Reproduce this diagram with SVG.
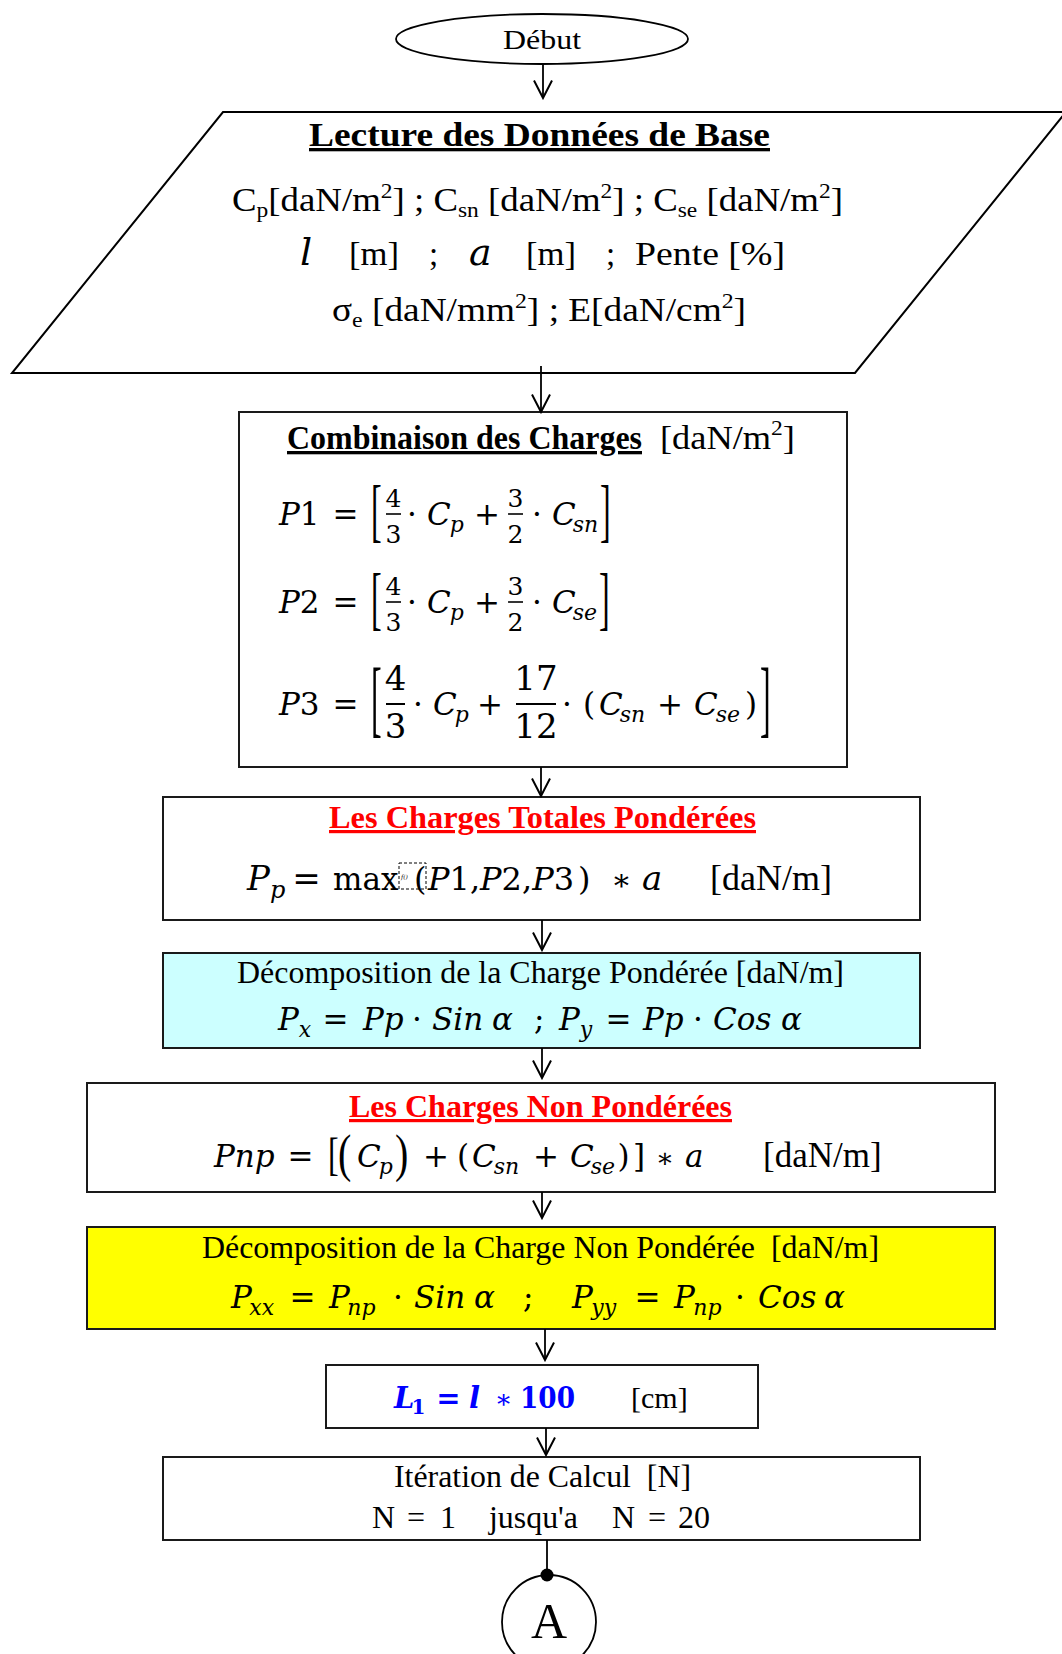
<svg xmlns="http://www.w3.org/2000/svg" width="1062" height="1654" viewBox="0 0 1062 1654">
<defs>
<style>
.s{font-family:"Liberation Serif","Times New Roman",serif;fill:#000}
.m{font-family:"DejaVu Serif",serif;fill:#000}
.i{font-style:italic}
.b{font-weight:bold}
.u{text-decoration:underline}
.red{fill:#ff0000}
.blue{fill:#0000ff}
.c{text-anchor:middle}
.box{stroke:#1a1a1a;stroke-width:2}
.bar{stroke:#000;stroke-width:1.6}
.bar2{stroke:#000;stroke-width:2}
</style>
<marker id="ah" viewBox="0 0 20 20" refX="18.5" refY="10" markerWidth="20" markerHeight="20" markerUnits="userSpaceOnUse" orient="auto">
<path d="M1,1 L18.5,10 L1,19" fill="none" stroke="#000" stroke-width="2"/>
</marker>
</defs>
<rect width="1062" height="1654" fill="#fff"/>

<g id="start">
<ellipse cx="542" cy="39" rx="146" ry="25" fill="#fff" stroke="#000" stroke-width="1.8"/>
<text class="s" x="503" y="49" font-size="27" textLength="78" lengthAdjust="spacingAndGlyphs">Début</text>
</g>

<g id="input">
<polygon points="223,112 1066,112 855,373 12,373" fill="#fff" stroke="#000" stroke-width="2"/>
<text class="s b u" x="309" y="146" font-size="33" textLength="461" lengthAdjust="spacingAndGlyphs">Lecture des Données de Base</text>
<text class="s" x="232" y="211" font-size="33" textLength="611" lengthAdjust="spacingAndGlyphs">C<tspan font-size="21" dy="6">p</tspan><tspan dy="-6">[daN/m</tspan><tspan font-size="21" dy="-13">2</tspan><tspan dy="13">] ; C</tspan><tspan font-size="21" dy="6">sn</tspan><tspan dy="-6"> [daN/m</tspan><tspan font-size="21" dy="-13">2</tspan><tspan dy="13">] ; C</tspan><tspan font-size="21" dy="6">se</tspan><tspan dy="-6"> [daN/m</tspan><tspan font-size="21" dy="-13">2</tspan><tspan dy="13">]</tspan></text>
<text class="m i" x="300" y="265" font-size="38">l</text>
<text class="s" x="349" y="265" font-size="33" textLength="50" lengthAdjust="spacingAndGlyphs">[m]</text>
<text class="s" x="429" y="265" font-size="33">;</text>
<text class="m i" x="469" y="265" font-size="38">a</text>
<text class="s" x="526" y="265" font-size="33" textLength="50" lengthAdjust="spacingAndGlyphs">[m]</text>
<text class="s" x="606" y="265" font-size="33">;</text>
<text class="s" x="635" y="265" font-size="33" textLength="150" lengthAdjust="spacingAndGlyphs">Pente [%]</text>
<text class="s" x="332" y="321" font-size="33" textLength="414" lengthAdjust="spacingAndGlyphs">σ<tspan font-size="21" dy="6">e</tspan><tspan dy="-6"> [daN/mm</tspan><tspan font-size="21" dy="-13">2</tspan><tspan dy="13">] ; E[daN/cm</tspan><tspan font-size="21" dy="-13">2</tspan><tspan dy="13">]</tspan></text>
</g>

<g id="combinaison">
<rect class="box" x="239" y="412" width="608" height="355" fill="#fff"/>
<text class="s b u" x="287" y="449" font-size="33" textLength="355" lengthAdjust="spacingAndGlyphs">Combinaison des Charges</text>
<text class="s" x="660" y="449" font-size="34" textLength="135" lengthAdjust="spacingAndGlyphs">[daN/m<tspan font-size="22" dy="-14">2</tspan><tspan dy="14">]</tspan></text>
<!-- P1 -->
<text class="m" x="279" y="525" font-size="31"><tspan class="i">P</tspan>1</text>
<text class="m c" x="345.5" y="525" font-size="31">=</text>
<text class="s" transform="translate(371,533.7) scale(1,2.206)" font-size="32">[</text>
<text class="m c" x="393.5" y="507" font-size="25">4</text>
<line class="bar" x1="386" y1="514" x2="401" y2="514"/>
<text class="m c" x="393.5" y="543" font-size="25">3</text>
<text class="m c" x="412" y="525" font-size="31">·</text>
<text class="m i" x="427" y="525" font-size="31">C<tspan font-size="22" dx="-1" dy="7">p</tspan></text>
<text class="m c" x="487" y="525" font-size="31">+</text>
<text class="m c" x="515.5" y="507" font-size="25">3</text>
<line class="bar" x1="508" y1="514" x2="523" y2="514"/>
<text class="m c" x="515.5" y="543" font-size="25">2</text>
<text class="m c" x="537" y="525" font-size="31">·</text>
<text class="m i" x="552" y="525" font-size="31">C<tspan font-size="22" dx="-3" dy="7">sn</tspan></text>
<text class="s" transform="translate(600,533.7) scale(1,2.206)" font-size="32">]</text>
<!-- P2 -->
<text class="m" x="279" y="613" font-size="31"><tspan class="i">P</tspan>2</text>
<text class="m c" x="345.5" y="613" font-size="31">=</text>
<text class="s" transform="translate(371,621.7) scale(1,2.206)" font-size="32">[</text>
<text class="m c" x="393.5" y="595" font-size="25">4</text>
<line class="bar" x1="386" y1="602" x2="401" y2="602"/>
<text class="m c" x="393.5" y="631" font-size="25">3</text>
<text class="m c" x="412" y="613" font-size="31">·</text>
<text class="m i" x="427" y="613" font-size="31">C<tspan font-size="22" dx="-1" dy="7">p</tspan></text>
<text class="m c" x="487" y="613" font-size="31">+</text>
<text class="m c" x="515.5" y="595" font-size="25">3</text>
<line class="bar" x1="508" y1="602" x2="523" y2="602"/>
<text class="m c" x="515.5" y="631" font-size="25">2</text>
<text class="m c" x="537" y="613" font-size="31">·</text>
<text class="m i" x="552" y="613" font-size="31">C<tspan font-size="22" dx="-3" dy="7">se</tspan></text>
<text class="s" transform="translate(599,621.7) scale(1,2.206)" font-size="32">]</text>
<!-- P3 -->
<text class="m" x="279" y="715" font-size="31"><tspan class="i">P</tspan>3</text>
<text class="m c" x="345.5" y="715" font-size="31">=</text>
<text class="s" transform="translate(371,726.5) scale(1,2.647)" font-size="32">[</text>
<text class="m c" x="395.5" y="690" font-size="34">4</text>
<line class="bar2" x1="386" y1="704" x2="405" y2="704"/>
<text class="m c" x="395.5" y="738" font-size="34">3</text>
<text class="m c" x="418" y="715" font-size="31">·</text>
<text class="m i" x="433" y="715" font-size="31">C<tspan font-size="22" dx="-2" dy="7">p</tspan></text>
<text class="m c" x="490" y="715" font-size="31">+</text>
<text class="m c" x="536" y="690" font-size="34">17</text>
<line class="bar2" x1="516" y1="704" x2="556" y2="704"/>
<text class="m c" x="536" y="738" font-size="34">12</text>
<text class="m c" x="567" y="715" font-size="31">·</text>
<text class="m" x="583" y="715" font-size="31">(</text>
<text class="m i" x="599" y="715" font-size="31">C<tspan font-size="22" dx="-3" dy="7">sn</tspan></text>
<text class="m c" x="670" y="715" font-size="31">+</text>
<text class="m i" x="694" y="715" font-size="31">C<tspan font-size="22" dx="-2" dy="7">se</tspan></text>
<text class="m" x="745" y="715" font-size="31">)</text>
<text class="s" transform="translate(760,726.5) scale(1,2.647)" font-size="32">]</text>
</g>

<g id="charges-totales">
<rect class="box" x="163" y="797" width="757" height="123" fill="#fff"/>
<text class="s b u red" x="329" y="828" font-size="32" textLength="427" lengthAdjust="spacingAndGlyphs">Les Charges Totales Pondérées</text>
<text class="m i" x="247" y="890" font-size="34">P<tspan font-size="24" dy="8">p</tspan></text>
<text class="m c" x="306.5" y="890" font-size="34">=</text>
<text class="m" x="333" y="890" font-size="31">max</text>
<rect x="399" y="863" width="27" height="26" fill="none" stroke="#000" stroke-width="1" stroke-dasharray="3,2"/>
<text class="m i" x="401" y="879" font-size="6">f()</text>
<text class="m" x="414" y="890" font-size="32">(</text>
<text class="m" x="428" y="890" font-size="32"><tspan class="i">P</tspan>1,<tspan class="i">P</tspan>2,<tspan class="i">P</tspan>3</text>
<text class="m" x="578" y="890" font-size="32">)</text>
<text class="m c" x="621.5" y="890" font-size="30">∗</text>
<text class="m i" x="642" y="890" font-size="34">a</text>
<text class="s" x="710" y="890" font-size="36">[daN/m]</text>
</g>

<g id="decomposition-ponderee">
<rect class="box" x="163" y="953" width="757" height="95" fill="#ccffff"/>
<text class="s" x="237" y="983" font-size="32" textLength="607" lengthAdjust="spacingAndGlyphs">Décomposition de la Charge Pondérée [daN/m]</text>
<text class="m i" x="278" y="1030" font-size="31">P<tspan font-size="22" dy="7">x</tspan></text>
<text class="m c" x="335.5" y="1030" font-size="31">=</text>
<text class="m i" x="363" y="1030" font-size="31">Pp</text>
<text class="m c" x="417" y="1030" font-size="31">·</text>
<text class="m i" x="432" y="1030" font-size="31">Sin</text>
<text class="m i" x="492" y="1030" font-size="31">α</text>
<text class="m" x="534" y="1030" font-size="31">;</text>
<text class="m i" x="559" y="1030" font-size="31">P<tspan font-size="22" dy="7">y</tspan></text>
<text class="m c" x="618.5" y="1030" font-size="31">=</text>
<text class="m i" x="643" y="1030" font-size="31">Pp</text>
<text class="m c" x="698" y="1030" font-size="31">·</text>
<text class="m i" x="713" y="1030" font-size="31">Cos</text>
<text class="m i" x="781" y="1030" font-size="31">α</text>
</g>

<g id="charges-non-ponderees">
<rect class="box" x="87" y="1083" width="908" height="109" fill="#fff"/>
<text class="s b u red" x="349" y="1117" font-size="32" textLength="383" lengthAdjust="spacingAndGlyphs">Les Charges Non Pondérées</text>
<text class="m i" x="214" y="1167" font-size="31">Pnp</text>
<text class="m c" x="300.5" y="1167" font-size="31">=</text>
<text class="s" transform="translate(328,1169.7) scale(1,1.434)" font-size="32">[</text>
<text class="s" transform="translate(338,1170.7) scale(1,1.32)" font-size="40">(</text>
<text class="m i" x="357" y="1167" font-size="31">C<tspan font-size="22" dx="-2" dy="7">p</tspan></text>
<text class="s" transform="translate(395,1170.7) scale(1,1.32)" font-size="40">)</text>
<text class="m c" x="436" y="1167" font-size="31">+</text>
<text class="m" x="457" y="1167" font-size="31">(</text>
<text class="m i" x="472" y="1167" font-size="31">C<tspan font-size="22" dx="-2" dy="7">sn</tspan></text>
<text class="m c" x="546" y="1167" font-size="31">+</text>
<text class="m i" x="570" y="1167" font-size="31">C<tspan font-size="22" dx="-3" dy="7">se</tspan></text>
<text class="m" x="617.5" y="1167" font-size="31">)</text>
<text class="m" x="633" y="1167" font-size="31">]</text>
<text class="m c" x="665" y="1167" font-size="27">∗</text>
<text class="m i" x="685" y="1167" font-size="31">a</text>
<text class="s" x="763" y="1167" font-size="35">[daN/m]</text>
</g>

<g id="decomposition-non-ponderee">
<rect class="box" x="87" y="1227" width="908" height="102" fill="#ffff00"/>
<text class="s" x="202" y="1258" font-size="32" textLength="677" lengthAdjust="spacingAndGlyphs">Décomposition de la Charge Non Pondérée&#160; [daN/m]</text>
<text class="m i" x="231" y="1308" font-size="31">P<tspan font-size="22" dx="-2.6" dy="7">xx</tspan></text>
<text class="m c" x="302.5" y="1308" font-size="31">=</text>
<text class="m i" x="329" y="1308" font-size="31">P<tspan font-size="22" dx="-2.6" dy="7">np</tspan></text>
<text class="m c" x="398" y="1308" font-size="31">·</text>
<text class="m i" x="414" y="1308" font-size="31">Sin</text>
<text class="m i" x="474" y="1308" font-size="31">α</text>
<text class="m" x="523" y="1308" font-size="31">;</text>
<text class="m i" x="572" y="1308" font-size="31">P<tspan font-size="22" dx="-1.6" dy="7">yy</tspan></text>
<text class="m c" x="647.5" y="1308" font-size="31">=</text>
<text class="m i" x="674" y="1308" font-size="31">P<tspan font-size="22" dx="-1.6" dy="7">np</tspan></text>
<text class="m c" x="740" y="1308" font-size="31">·</text>
<text class="m i" x="758" y="1308" font-size="31">Cos</text>
<text class="m i" x="824" y="1308" font-size="31">α</text>
</g>

<g id="longueur">
<rect class="box" x="326" y="1365" width="432" height="63" fill="#fff"/>
<text class="m b i blue" x="394" y="1408" font-size="29">L<tspan font-size="20" font-style="normal" dx="-3" dy="6">1</tspan></text>
<text class="m b c blue" x="448.5" y="1408" font-size="29">=</text>
<text class="m b i blue" x="469" y="1408" font-size="29">l</text>
<text class="m c blue" x="503.5" y="1408" font-size="26">∗</text>
<text class="m b blue" x="520" y="1408" font-size="29" textLength="55" lengthAdjust="spacingAndGlyphs">100</text>
<text class="s" x="631" y="1408" font-size="30">[cm]</text>
</g>

<g id="iteration">
<rect class="box" x="163" y="1457" width="757" height="83" fill="#fff"/>
<text class="s" x="394" y="1487" font-size="31" textLength="297" lengthAdjust="spacingAndGlyphs">Itération de Calcul&#160; [N]</text>
<text class="s" x="372" y="1528" font-size="32">N</text>
<text class="s" x="407" y="1528" font-size="32">=</text>
<text class="s" x="440" y="1528" font-size="32">1</text>
<text class="s" x="489" y="1528" font-size="32" textLength="89" lengthAdjust="spacingAndGlyphs">jusqu'a</text>
<text class="s" x="612" y="1528" font-size="32">N</text>
<text class="s" x="648" y="1528" font-size="32">=</text>
<text class="s" x="678" y="1528" font-size="32">20</text>
</g>

<g id="connecteur-A">
<ellipse cx="549" cy="1622" rx="47" ry="47" fill="#fff" stroke="#000" stroke-width="1.8"/>
<text class="s c" x="549" y="1638" font-size="50">A</text>
</g>

<g id="connectors" fill="none" stroke="#000" stroke-width="1.8">
<line x1="543" y1="65" x2="543" y2="98" marker-end="url(#ah)"/>
<line x1="541" y1="366" x2="541" y2="412" marker-end="url(#ah)"/>
<line x1="541" y1="767" x2="541" y2="796" marker-end="url(#ah)"/>
<line x1="542" y1="920" x2="542" y2="950" marker-end="url(#ah)"/>
<line x1="542" y1="1048" x2="542" y2="1078" marker-end="url(#ah)"/>
<line x1="542" y1="1192" x2="542" y2="1218" marker-end="url(#ah)"/>
<line x1="545" y1="1329" x2="545" y2="1360" marker-end="url(#ah)"/>
<line x1="546" y1="1428" x2="546" y2="1455" marker-end="url(#ah)"/>
<line x1="547" y1="1540" x2="547" y2="1575"/>
<circle cx="547" cy="1575" r="6.5" fill="#000" stroke="none"/>
</g>
</svg>
